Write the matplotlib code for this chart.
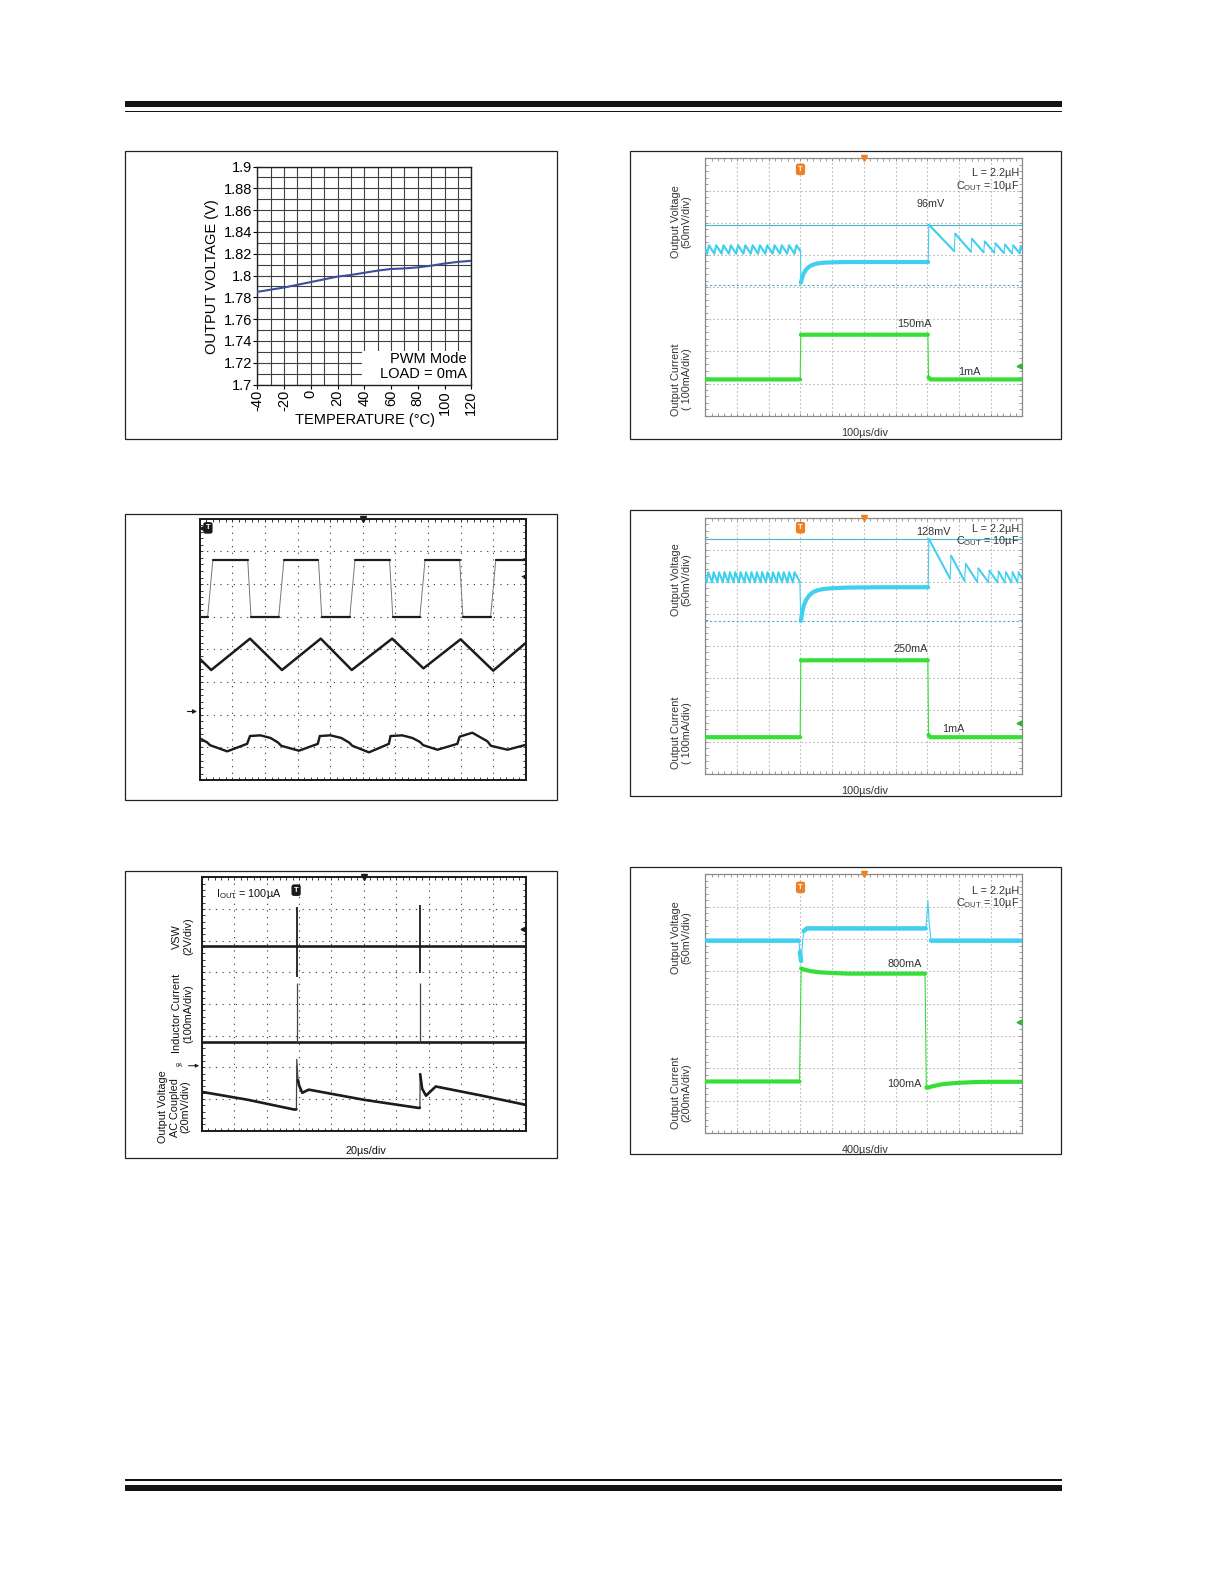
import matplotlib
matplotlib.use('Agg')
import numpy as np
import matplotlib.pyplot as plt
from matplotlib.ticker import MultipleLocator
from matplotlib.patches import Rectangle

plt.rcParams['font.family'] = ['Liberation Sans', 'DejaVu Sans']
plt.rcParams['mathtext.fontset'] = 'custom'
plt.rcParams['mathtext.rm'] = 'Liberation Sans'
plt.rcParams['mathtext.it'] = 'Liberation Sans:italic'
plt.rcParams['mathtext.bf'] = 'Liberation Sans:bold'

# ---------------- data ----------------
# Panel 1: output voltage vs temperature
temp_c = [-40, -30, -20, -10, 0, 10, 20, 30, 40, 50, 60, 70, 80, 90, 100, 110, 120]
vout_v = [1.7850, 1.7870, 1.7890, 1.7915, 1.7940, 1.7965, 1.7990, 1.8005, 1.8025,
          1.8045, 1.8060, 1.8065, 1.8075, 1.8090, 1.8110, 1.8125, 1.8135]
x_ticks = [-40, -20, 0, 20, 40, 60, 80, 100, 120]
x_tick_labels = ['-40', '-20', '0', '20', '40', '60', '80', '100', '120']
y_ticks = [1.70, 1.72, 1.74, 1.76, 1.78, 1.80, 1.82, 1.84, 1.86, 1.88, 1.90]
y_tick_labels = ['1.7', '1.72', '1.74', '1.76', '1.78', '1.8', '1.82', '1.84', '1.86', '1.88', '1.9']

# Panel 2: load step 1mA -> 150mA (values in scope divisions)
p2_cursor = [5.94, 4.06]
p2_v_pre_x = [0.00, 0.05, 0.11, 0.28, 0.34, 0.51, 0.57, 0.74, 0.80, 0.97, 1.03, 1.20, 1.26, 1.43, 1.49,
              1.66, 1.72, 1.89, 1.95, 2.12, 2.18, 2.35, 2.41, 2.58, 2.64, 2.81, 2.87, 3.00, 3.01]
p2_v_pre_y = [5.15, 5.04, 5.30, 5.04, 5.30, 5.04, 5.30, 5.04, 5.30, 5.04, 5.30, 5.04, 5.30, 5.04, 5.30,
              5.04, 5.30, 5.04, 5.30, 5.04, 5.30, 5.04, 5.30, 5.04, 5.30, 5.04, 5.30, 5.12, 4.14]
p2_v_mid_x = [3.01, 3.05, 3.10, 3.18, 3.28, 3.40, 3.55, 3.75, 4.00, 4.50, 5.50, 6.50, 7.03]
p2_v_mid_y = [4.14, 4.28, 4.42, 4.55, 4.64, 4.70, 4.74, 4.76, 4.77, 4.78, 4.78, 4.78, 4.78]
p2_v_post_x = [7.03, 7.05, 7.85, 7.88, 8.38, 8.41, 8.78, 8.81, 9.12, 9.15, 9.42, 9.45, 9.68, 9.71, 9.92, 9.95, 10.00]
p2_v_post_y = [4.78, 5.94, 5.12, 5.66, 5.10, 5.50, 5.08, 5.42, 5.07, 5.36, 5.06, 5.32, 5.05, 5.30, 5.05, 5.28, 5.20]
p2_i_x = [0.00, 2.99, 3.01, 7.02, 7.04, 7.10, 10.00]
p2_i_y = [1.13, 1.13, 2.52, 2.52, 1.20, 1.13, 1.13]

# Panel 3: switching waveforms (black scope)
p3_sq_x = [0.00, 0.24, 0.40, 1.47, 1.57, 2.42, 2.58, 3.64, 3.74, 4.60, 4.76, 5.82, 5.92, 6.75, 6.91, 7.97, 8.07, 8.92, 9.08, 10.00]
p3_sq_y = [4.99, 4.99, 6.74, 6.74, 4.99, 4.99, 6.74, 6.74, 4.99, 4.99, 6.74, 6.74, 4.99, 4.99, 6.74, 6.74, 4.99, 4.99, 6.74, 6.74]
p3_tri_x = [0.00, 0.35, 1.54, 2.52, 3.71, 4.66, 5.90, 6.86, 8.00, 9.00, 10.00]
p3_tri_y = [3.71, 3.37, 4.33, 3.37, 4.33, 3.37, 4.33, 3.42, 4.31, 3.35, 4.20]
p3_rip_x = [0.00, 0.23, 0.31, 0.84, 1.45, 1.54, 1.86, 2.17, 2.40, 2.50, 3.04, 3.62, 3.68, 4.01, 4.34, 4.58,
            4.68, 5.19, 5.80, 5.85, 6.21, 6.52, 6.75, 6.85, 7.29, 7.90, 7.97, 8.36, 8.82, 8.93, 9.44, 10.00]
p3_rip_y = [1.28, 1.15, 1.07, 0.88, 1.11, 1.35, 1.37, 1.29, 1.15, 1.05, 0.90, 1.11, 1.35, 1.37, 1.29, 1.15,
            1.05, 0.85, 1.11, 1.35, 1.37, 1.29, 1.17, 1.07, 0.93, 1.11, 1.33, 1.45, 1.19, 1.05, 0.93, 1.08]

# Panel 4: load step 1mA -> 250mA
p4_cursor = [7.34, 4.78]
p4_v_pre_x = [0.00, 0.04, 0.09, 0.21, 0.26, 0.38, 0.43, 0.55, 0.60, 0.72, 0.77, 0.89, 0.94, 1.06, 1.11,
              1.23, 1.28, 1.40, 1.45, 1.57, 1.62, 1.74, 1.79, 1.91, 1.96, 2.08, 2.13, 2.25, 2.30, 2.42,
              2.47, 2.59, 2.64, 2.76, 2.81, 2.98, 3.01]
p4_v_pre_y = [6.05, 5.98, 6.30, 5.98, 6.30, 5.98, 6.30, 5.98, 6.30, 5.98, 6.30, 5.98, 6.30, 5.98, 6.30,
              5.98, 6.30, 5.98, 6.30, 5.98, 6.30, 5.98, 6.30, 5.98, 6.30, 5.98, 6.30, 5.98, 6.30, 5.98,
              6.30, 5.98, 6.30, 5.98, 6.30, 6.00, 4.78]
p4_v_mid_x = [3.01, 3.05, 3.10, 3.18, 3.28, 3.40, 3.55, 3.75, 4.00, 4.50, 5.50, 6.50, 7.03]
p4_v_mid_y = [4.78, 5.02, 5.25, 5.44, 5.58, 5.68, 5.74, 5.78, 5.80, 5.82, 5.83, 5.83, 5.83]
p4_v_post_x = [7.03, 7.05, 7.72, 7.75, 8.18, 8.21, 8.58, 8.61, 8.93, 8.96, 9.22, 9.25, 9.45, 9.48, 9.66, 9.69, 9.85, 9.88, 10.00]
p4_v_post_y = [5.83, 7.34, 6.10, 6.82, 6.02, 6.56, 6.00, 6.42, 5.99, 6.35, 5.98, 6.32, 5.98, 6.30, 5.98, 6.30, 5.98, 6.30, 6.08]
p4_i_x = [0.00, 2.99, 3.01, 7.02, 7.04, 7.10, 10.00]
p4_i_y = [1.15, 1.15, 3.55, 3.55, 1.22, 1.15, 1.15]

# Panel 5: PFM operation, IOUT = 100uA
p5_vsw_level = 5.85
p5_spike_x = [2.93, 6.74]
p5_vsw_top = [7.08, 7.13]
p5_vsw_bot = [4.87, 4.97]
p5_ind_level = 2.82
p5_ind_top = [4.67, 4.67]
p5_vo_x = [0.00, 1.42, 2.86, 2.92, 2.93, 2.97, 3.00, 3.10, 3.30, 5.00, 6.71, 6.73, 6.74, 6.80, 6.92, 7.22, 8.60, 10.00]
p5_vo_y = [1.23, 0.98, 0.67, 0.68, 2.26, 1.60, 1.44, 1.20, 1.30, 0.98, 0.72, 0.73, 1.79, 1.33, 1.11, 1.40, 1.12, 0.82]

# Panel 6: load step 100mA -> 800mA
p6_v_x = [0.00, 2.95, 2.98, 3.02, 3.05, 3.10, 3.20, 6.95, 6.98, 7.02, 7.06, 7.12, 10.00]
p6_v_y = [5.95, 5.95, 5.60, 5.32, 5.70, 6.25, 6.33, 6.33, 6.60, 7.19, 6.50, 5.95, 5.95]
p6_i_x = [0.00, 2.97, 3.02, 3.10, 3.30, 3.60, 4.00, 4.50, 5.00, 6.93, 6.97, 7.02, 7.20, 7.50, 8.00, 8.50, 9.00, 10.00]
p6_i_y = [1.59, 1.59, 5.09, 5.06, 5.01, 4.97, 4.95, 4.93, 4.93, 4.93, 1.40, 1.40, 1.45, 1.51, 1.55, 1.57, 1.58, 1.58]

# ---------------- styles ----------------
CYAN = '#3fd0ef'
CURSOR = '#45b5cc'
GREEN = '#36df36'
ORANGE = '#f08022'
TXT = '#333333'
TRACE_K = '#1c1c1c'
FS_SCOPE = 7.8

W, H = 1224, 1584
S = 1.0092  # layout scale (page units -> pixels)
fig = plt.figure(figsize=(W / 100, H / 100), dpi=100)


def px(x0, y0, x1, y1):
    return [x0 * S / W, 1 - y1 * S / H, (x1 - x0) * S / W, (y1 - y0) * S / H]


ov = fig.add_axes([0, 0, 1, 1])
ov.set_xlim(0, W / S)
ov.set_ylim(H / S, 0)
ov.axis('off')

# page rules
ov.add_patch(Rectangle((124, 100), 928, 6, fc='#141414', ec='none'))
ov.add_patch(Rectangle((124, 109.5), 928, 1.8, fc='#141414', ec='none'))
ov.add_patch(Rectangle((124, 1466), 928, 1.8, fc='#141414', ec='none'))
ov.add_patch(Rectangle((124, 1471), 928, 6, fc='#141414', ec='none'))

# panel frames
for (x0, y0, x1, y1) in [(124, 150, 552, 435), (624, 150, 1051, 435), (124, 509, 552, 793),
                         (624, 505, 1051, 789), (124, 863, 552, 1147), (624, 859, 1051, 1143)]:
    ov.add_patch(Rectangle((x0, y0), x1 - x0, y1 - y0, fill=False, ec='#222222', lw=0.9))


def scope_axes(rect, gridcolor, spinecolor, spine_lw, dots=(0, (1, 2.6))):
    ax = fig.add_axes(px(*rect))
    ax.set_xlim(0, 10)
    ax.set_ylim(0, 8)
    ax.set_xticks(range(11))
    ax.set_yticks(range(9))
    ax.xaxis.set_minor_locator(MultipleLocator(0.2))
    ax.yaxis.set_minor_locator(MultipleLocator(0.2))
    ax.tick_params(which='both', direction='in', length=2.5, width=0.6, top=True, right=True,
                   labelbottom=False, labelleft=False, color=spinecolor)
    ax.grid(True, which='major', color=gridcolor, linestyle=dots, lw=0.8)
    for s in ax.spines.values():
        s.set_color(spinecolor)
        s.set_linewidth(spine_lw)
    return ax


def trace(ax, xs, ys, color, lw, edge_lw=0.8, edge_color=None, steep=8.0):
    ax.plot(xs, ys, color=edge_color or color, lw=edge_lw, zorder=3)
    bx, by = [], []
    for i in range(len(xs)):
        bx.append(xs[i])
        by.append(ys[i])
        if i < len(xs) - 1:
            dx = max(xs[i + 1] - xs[i], 1e-9)
            if abs(ys[i + 1] - ys[i]) / dx > steep:
                bx.append(np.nan)
                by.append(np.nan)
    ax.plot(bx, by, color=color, lw=lw, solid_capstyle='round', solid_joinstyle='round', zorder=4)


def trig_marker(ax, x, y, fc):
    ax.text(x, y, 'T', color='white', fontsize=5.5, fontweight='bold', ha='center', va='center',
            zorder=6, bbox=dict(boxstyle='round,pad=0.3', fc=fc, ec='none'))


# ---------------- Panel 1 ----------------
ax1 = fig.add_axes(px(255, 165, 467, 381))
ax1.set_xlim(-40, 120)
ax1.set_ylim(1.7, 1.9)
ax1.set_xticks(x_ticks)
ax1.set_xticklabels(x_tick_labels, rotation=90)
ax1.set_yticks(y_ticks)
ax1.set_yticklabels(y_tick_labels)
ax1.xaxis.set_minor_locator(MultipleLocator(10))
ax1.yaxis.set_minor_locator(MultipleLocator(0.01))
ax1.grid(True, which='both', color='#404040', lw=0.8)
ax1.tick_params(which='major', length=3, width=0.8, pad=1, labelsize=10.5)
ax1.tick_params(which='minor', length=0)
for s in ax1.spines.values():
    s.set_color('#222222')
    s.set_linewidth(1.0)
ax1.add_patch(Rectangle((38, 1.7), 82, 0.031, fc='white', ec='none', zorder=2.5))
ax1.plot(temp_c, vout_v, color='#3a4f9e', lw=1.5, zorder=3)
ax1.text(116.5, 1.7237, 'PWM Mode', ha='right', va='center', fontsize=10.5, zorder=4)
ax1.text(116.5, 1.7095, 'LOAD = 0mA', ha='right', va='center', fontsize=10.5, zorder=4)
ov.text(362, 416, 'TEMPERATURE (°C)', ha='center', va='center', fontsize=10.5)
ov.text(210, 274, 'OUTPUT VOLTAGE (V)', ha='center', va='center', rotation=90, fontsize=10.5)

# ---------------- Panel 2 ----------------
ax2 = scope_axes((699, 157, 1013, 412), '#9a9a9a', '#8a8a8a', 0.9)
ax2.axhline(p2_cursor[0], color=CURSOR, lw=0.8, zorder=2)
ax2.axhline(p2_cursor[1], color=CURSOR, lw=0.8, linestyle=(0, (2, 2)), zorder=2)
trace(ax2, p2_v_pre_x, p2_v_pre_y, CYAN, 1.5)
trace(ax2, p2_v_mid_x, p2_v_mid_y, CYAN, 3.0)
trace(ax2, p2_v_post_x, p2_v_post_y, CYAN, 1.5)
trace(ax2, p2_i_x, p2_i_y, GREEN, 3.0)
trig_marker(ax2, 3.0, 7.66, ORANGE)
ax2.plot([5], [8], marker='v', color=ORANGE, ms=5, clip_on=False, zorder=6)
ax2.plot([9.88], [1.56], marker='<', color='#2fb82f', ms=3.5, zorder=6)
ax2.text(9.9, 7.55, 'L = 2.2µH', ha='right', va='center', fontsize=FS_SCOPE, color=TXT)
ax2.text(9.9, 7.15, r'C$_{\mathrm{OUT}}$ = 10µF', ha='right', va='center', fontsize=FS_SCOPE, color=TXT)
ax2.text(7.1, 6.58, '96mV', ha='center', va='center', fontsize=FS_SCOPE, color=TXT)
ax2.text(6.58, 2.86, '150mA', ha='center', va='center', fontsize=FS_SCOPE, color=TXT)
ax2.text(8.33, 1.37, '1mA', ha='center', va='center', fontsize=FS_SCOPE, color=TXT)
ov.text(675, 220, 'Output Voltage\n(50mV/div)', rotation=90, ha='center', va='center',
        fontsize=FS_SCOPE, color=TXT, multialignment='center', linespacing=1.15)
ov.text(675, 376, 'Output Current\n( 100mA/div)', rotation=90, ha='center', va='center',
        fontsize=FS_SCOPE, color=TXT, multialignment='center', linespacing=1.15)
ov.text(857, 429, '100µs/div', ha='center', va='center', fontsize=FS_SCOPE, color=TXT)

# ---------------- Panel 3 ----------------
ax3 = scope_axes((198, 514, 521, 773), '#303030', '#1a1a1a', 1.4, dots=(0, (1, 5)))
trace(ax3, p3_sq_x, p3_sq_y, TRACE_K, 1.6, edge_lw=0.7, edge_color='#777777')
trace(ax3, p3_tri_x, p3_tri_y, TRACE_K, 1.8)
trace(ax3, p3_rip_x, p3_rip_y, TRACE_K, 1.7)
trig_marker(ax3, 0.25, 7.72, '#1a1a1a')
ax3.plot([0.08], [7.72], marker='<', color='#1a1a1a', ms=3.5, zorder=6)
ax3.plot([5], [8], marker='v', color='#1a1a1a', ms=4.5, clip_on=False, zorder=6)
ax3.annotate('', xy=(9.78, 6.23), xytext=(10.0, 6.23),
             arrowprops=dict(arrowstyle='-|>', lw=0.7, color='#1a1a1a', mutation_scale=5))
ov.annotate('', xy=(198, 705), xytext=(183, 705),
            arrowprops=dict(arrowstyle='-|>', lw=0.8, color='#1a1a1a', mutation_scale=6))

# ---------------- Panel 4 ----------------
ax4 = scope_axes((699, 513, 1013, 767), '#9a9a9a', '#8a8a8a', 0.9)
ax4.axhline(p4_cursor[0], color=CURSOR, lw=0.8, zorder=2)
ax4.axhline(p4_cursor[1], color=CURSOR, lw=0.8, linestyle=(0, (2, 2)), zorder=2)
trace(ax4, p4_v_pre_x, p4_v_pre_y, CYAN, 1.4)
trace(ax4, p4_v_mid_x, p4_v_mid_y, CYAN, 3.0)
trace(ax4, p4_v_post_x, p4_v_post_y, CYAN, 1.4)
trace(ax4, p4_i_x, p4_i_y, GREEN, 3.0)
trig_marker(ax4, 3.0, 7.69, ORANGE)
ax4.plot([5], [8], marker='v', color=ORANGE, ms=5, clip_on=False, zorder=6)
ax4.plot([9.88], [1.58], marker='<', color='#2fb82f', ms=3.5, zorder=6)
ax4.text(9.9, 7.66, 'L = 2.2µH', ha='right', va='center', fontsize=FS_SCOPE, color=TXT)
ax4.text(9.9, 7.27, r'C$_{\mathrm{OUT}}$ = 10µF', ha='right', va='center', fontsize=FS_SCOPE, color=TXT)
ax4.text(7.2, 7.55, '128mV', ha='center', va='center', fontsize=FS_SCOPE, color=TXT)
ax4.text(6.48, 3.9, '250mA', ha='center', va='center', fontsize=FS_SCOPE, color=TXT)
ax4.text(7.82, 1.42, '1mA', ha='center', va='center', fontsize=FS_SCOPE, color=TXT)
ov.text(675, 574, 'Output Voltage\n(50mV/div)', rotation=90, ha='center', va='center',
        fontsize=FS_SCOPE, color=TXT, multialignment='center', linespacing=1.15)
ov.text(675, 726, 'Output Current\n( 100mA/div)', rotation=90, ha='center', va='center',
        fontsize=FS_SCOPE, color=TXT, multialignment='center', linespacing=1.15)
ov.text(857, 784, '100µs/div', ha='center', va='center', fontsize=FS_SCOPE, color=TXT)

# ---------------- Panel 5 ----------------
ax5 = scope_axes((200, 869.5, 521, 1120.5), '#303030', '#1a1a1a', 1.4, dots=(0, (1, 5)))
ax5.axhline(p5_vsw_level, color=TRACE_K, lw=1.9, zorder=4)
ax5.axhline(p5_ind_level, color=TRACE_K, lw=1.9, zorder=4)
ax5.vlines(p5_spike_x, p5_vsw_bot, p5_vsw_top, color=TRACE_K, lw=1.3, zorder=4)
ax5.vlines(p5_spike_x, [p5_ind_level, p5_ind_level], p5_ind_top, color='#444444', lw=0.9, zorder=4)
trace(ax5, p5_vo_x, p5_vo_y, TRACE_K, 1.9, edge_lw=0.9, edge_color='#444444')
trig_marker(ax5, 2.91, 7.6, '#1a1a1a')
ax5.plot([5], [8], marker='v', color='#1a1a1a', ms=4.5, clip_on=False, zorder=6)
ax5.plot([9.9], [6.36], marker='<', color='#1a1a1a', ms=3.5, zorder=6)
ax5.text(0.44, 7.49, r'I$_{\mathrm{OUT}}$ = 100µA', ha='left', va='center', fontsize=FS_SCOPE, color='#111111')
ov.text(178, 1056, '0A', ha='center', va='center', fontsize=4.2, color='#111111')
ov.annotate('', xy=(200, 1056), xytext=(184, 1056),
            arrowprops=dict(arrowstyle='-|>', lw=0.7, color='#1a1a1a', mutation_scale=5))
ov.text(181, 928, 'VSW\n(2V/div)', rotation=90, ha='center', va='center',
        fontsize=FS_SCOPE, color='#111111', multialignment='center', linespacing=1.15)
ov.text(181, 1004, 'Inductor Current\n(100mA/div)', rotation=90, ha='center', va='center',
        fontsize=FS_SCOPE, color='#111111', multialignment='center', linespacing=1.15)
ov.text(173, 1097, 'Output Voltage\nAC Coupled\n(20mV/div)', rotation=90, ha='center', va='center',
        fontsize=FS_SCOPE, color='#111111', multialignment='center', linespacing=1.15)
ov.text(363, 1141, '20µs/div', ha='center', va='center', fontsize=FS_SCOPE, color='#111111')

# ---------------- Panel 6 ----------------
ax6 = scope_axes((699, 866.5, 1013, 1122.5), '#9a9a9a', '#8a8a8a', 0.9)
trace(ax6, p6_v_x, p6_v_y, CYAN, 3.2)
trace(ax6, p6_i_x, p6_i_y, GREEN, 3.0)
trig_marker(ax6, 3.0, 7.6, ORANGE)
ax6.plot([5], [8], marker='v', color=ORANGE, ms=5, clip_on=False, zorder=6)
ax6.plot([9.88], [3.44], marker='<', color='#2fb82f', ms=3.5, zorder=6)
ax6.text(9.9, 7.5, 'L = 2.2µH', ha='right', va='center', fontsize=FS_SCOPE, color=TXT)
ax6.text(9.9, 7.12, r'C$_{\mathrm{OUT}}$ = 10µF', ha='right', va='center', fontsize=FS_SCOPE, color=TXT)
ax6.text(6.3, 5.24, '800mA', ha='center', va='center', fontsize=FS_SCOPE, color=TXT)
ax6.text(6.28, 1.5, '100mA', ha='center', va='center', fontsize=FS_SCOPE, color=TXT)
ov.text(675, 929, 'Output Voltage\n(50mV/div)', rotation=90, ha='center', va='center',
        fontsize=FS_SCOPE, color=TXT, multialignment='center', linespacing=1.15)
ov.text(675, 1083, 'Output Current\n(200mA/div)', rotation=90, ha='center', va='center',
        fontsize=FS_SCOPE, color=TXT, multialignment='center', linespacing=1.15)
ov.text(857, 1140, '400µs/div', ha='center', va='center', fontsize=FS_SCOPE, color=TXT)

fig.savefig('out.png', dpi=100, facecolor='white')
